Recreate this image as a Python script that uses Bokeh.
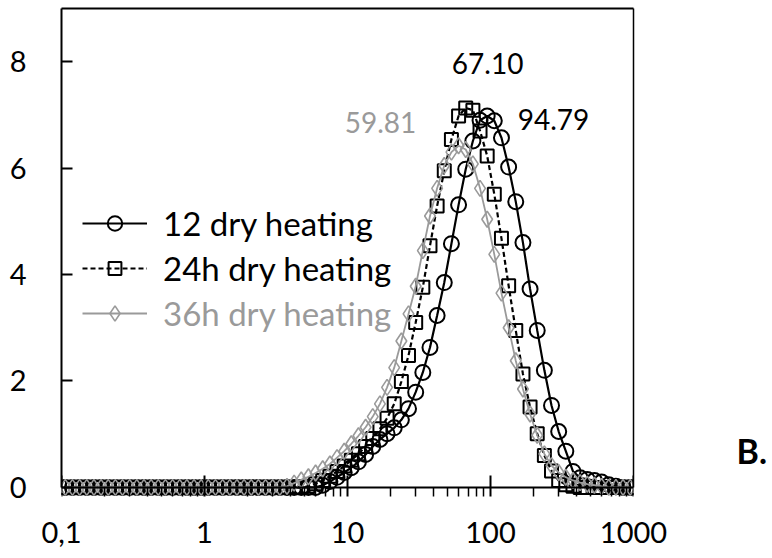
from bokeh.plotting import figure
from bokeh.models import Legend, LegendItem, FixedTicker, LinearAxis, LogAxis
from bokeh.embed import file_html
from bokeh.resources import INLINE
from bokeh.core.properties import value

# size classes (x)
size_bins = [0.1063, 0.1193, 0.1339, 0.1502, 0.1686, 0.1891, 0.2122, 0.2381, 0.2671, 0.2998,
             0.3363, 0.3774, 0.4234, 0.4751, 0.5330, 0.5981, 0.6711, 0.7530, 0.8449, 0.9480,
             1.063, 1.193, 1.339, 1.502, 1.686, 1.891, 2.122, 2.381, 2.671, 2.998,
             3.363, 3.774, 4.234, 4.751, 5.330, 5.981, 6.711, 7.530, 8.449, 9.480,
             10.63, 11.93, 13.39, 15.02, 16.86, 18.91, 21.22, 23.81, 26.71, 29.98,
             33.63, 37.74, 42.34, 47.51, 53.30, 59.81, 67.10, 75.30, 84.49, 94.79,
             106.3, 119.3, 133.9, 150.2, 168.6, 189.1, 212.2, 238.1, 267.1, 299.8,
             336.3, 377.4, 423.4, 475.1, 533.0, 598.1, 671.1, 753.0, 844.9, 948.0]

h12 = [0, 0, 0, 0, 0, 0, 0, 0, 0, 0,
       0, 0, 0, 0, 0, 0, 0, 0, 0, 0,
       0, 0, 0, 0, 0, 0, 0, 0, 0, 0,
       0, 0, 0, 0, 0, 0, 0.04, 0.11, 0.19, 0.28,
       0.37, 0.48, 0.62, 0.77, 0.90, 1.01, 1.12, 1.27, 1.48, 1.79,
       2.16, 2.63, 3.23, 3.85, 4.58, 5.31, 5.98, 6.51, 6.90, 6.98,
       6.89, 6.57, 6.02, 5.37, 4.60, 3.73, 2.95, 2.20, 1.54, 1.05,
       0.68, 0.30, 0.18, 0.15, 0.13, 0.10, 0.05, 0.02, 0, 0]

h24 = [0, 0, 0, 0, 0, 0, 0, 0, 0, 0,
       0, 0, 0, 0, 0, 0, 0, 0, 0, 0,
       0, 0, 0, 0, 0, 0, 0, 0, 0, 0,
       0, 0, 0, 0, 0.02, 0.07, 0.13, 0.21, 0.30, 0.40,
       0.51, 0.63, 0.77, 0.92, 1.10, 1.30, 1.57, 1.99, 2.48, 3.10,
       3.76, 4.54, 5.29, 5.95, 6.54, 6.98, 7.13, 7.09, 6.70, 6.23,
       5.51, 4.68, 3.79, 2.95, 2.13, 1.51, 1.01, 0.60, 0.31, 0.13,
       0.05, 0.02, 0, 0, 0, 0, 0, 0, 0, 0]

h36 = [0, 0, 0, 0, 0, 0, 0, 0, 0, 0,
       0, 0, 0, 0, 0, 0, 0, 0, 0, 0,
       0, 0, 0, 0, 0, 0, 0, 0, 0, 0,
       0, 0.02, 0.08, 0.14, 0.20, 0.27, 0.35, 0.44, 0.56, 0.68,
       0.82, 0.97, 1.13, 1.33, 1.57, 1.88, 2.25, 2.75, 3.26, 3.78,
       4.45, 5.10, 5.62, 6.05, 6.30, 6.42, 6.35, 6.08, 5.62, 5.04,
       4.38, 3.65, 3.00, 2.38, 1.85, 1.38, 0.98, 0.63, 0.41, 0.28,
       0.19, 0.13, 0.09, 0.06, 0.04, 0.02, 0, 0, 0, 0]

series_names = ["12 dry heating", "24h dry heating", "36h dry heating"]

x_tick_values = [0.1, 1, 10, 100, 1000]
x_tick_labels = ["0,1", "1", "10", "100", "1000"]
x_minor_ticks = [0.2, 0.3, 0.4, 0.5, 0.6, 0.7, 0.8, 0.9,
                 2, 3, 4, 5, 6, 7, 8, 9,
                 20, 30, 40, 50, 60, 70, 80, 90,
                 200, 300, 400, 500, 600, 700, 800, 900]
y_tick_values = [0, 2, 4, 6, 8]
y_axis_span = (0, 9)

peak_labels = ["67.10", "94.79", "59.81"]
peak_label_x = [95.5, 276.0, 17.0]
peak_label_y = [7.97, 6.92, 6.85]
peak_label_colors = ["black", "black", "#9a9a9a"]

panel_tag = "B."
panel_tag_y = [0.69]

FONT = "Lato"
GRAY = "#9a9a9a"

# the frame reaches a little below y=0 so that the markers lying on the
# baseline are not cut in half; the x axis line itself is pinned at y=0
p = figure(frame_width=572, frame_height=489,
           min_border_left=61, min_border_right=139, min_border_top=8, min_border_bottom=61,
           x_axis_type="log", x_range=(0.1, 1000), y_range=(-0.19, 9),
           output_backend="svg", toolbar_location=None)
p.background_fill_color = "white"
p.border_fill_color = "white"
p.outline_line_color = None
p.xgrid.visible = False
p.ygrid.visible = False

# x axis line and ticks, pinned at y = 0 (labels drawn by the axis below)
xa = p.xaxis[0]
xa.fixed_location = 0
xa.ticker = FixedTicker(ticks=x_tick_values, minor_ticks=x_minor_ticks)
xa.axis_line_width = 2
xa.major_tick_line_width = 2
xa.minor_tick_line_width = 1.5
xa.major_tick_in = 12
xa.major_tick_out = 9
xa.minor_tick_in = 0
xa.minor_tick_out = 9
xa.major_label_text_font_size = "0px"
xa.major_label_text_color = None

# x tick labels
xl = LogAxis(ticker=FixedTicker(ticks=x_tick_values))
xl.major_label_overrides = dict(zip(x_tick_values, x_tick_labels))
xl.axis_line_color = None
xl.major_tick_line_color = None
xl.minor_tick_line_color = None
xl.major_tick_in = 0
xl.major_tick_out = 0
xl.major_label_text_font = FONT
xl.major_label_text_font_size = "29px"
xl.major_label_text_color = "black"
xl.major_label_standoff = 24
p.add_layout(xl, "below")

ya = p.yaxis[0]
ya.bounds = y_axis_span
ya.ticker = FixedTicker(ticks=y_tick_values)
ya.axis_line_width = 2
ya.major_tick_line_width = 2
ya.major_tick_in = 11
ya.major_tick_out = 0
ya.minor_tick_line_color = None
ya.major_label_text_font = FONT
ya.major_label_text_font_size = "29px"
ya.major_label_text_color = "black"
ya.major_label_standoff = 35

# top border
ta = LogAxis(ticker=FixedTicker(ticks=[]))
ta.axis_line_width = 2
ta.major_tick_line_color = None
ta.minor_tick_line_color = None
ta.major_tick_in = 0
ta.major_tick_out = 0
p.add_layout(ta, "above")

# right border, carrying the panel tag "B." as its only label
ra = LinearAxis(ticker=FixedTicker(ticks=panel_tag_y),
                major_label_overrides={panel_tag_y[0]: panel_tag})
ra.bounds = y_axis_span
ra.axis_line_width = 1.5
ra.major_tick_line_color = None
ra.minor_tick_line_color = None
ra.major_tick_in = 0
ra.major_tick_out = 0
ra.major_label_standoff = 103
ra.major_label_text_font = FONT
ra.major_label_text_font_size = "34px"
ra.major_label_text_font_style = "bold"
ra.major_label_text_color = "black"
p.add_layout(ra, "right")

# series
l1 = p.line(size_bins, h12, line_color="black", line_width=2.2)
m1 = p.scatter(size_bins, h12, marker="circle", size=15, line_color="black",
               fill_color=None, line_width=2)
l2 = p.line(size_bins, h24, line_color="black", line_width=2.2, line_dash="5 3")
m2 = p.scatter(size_bins, h24, marker="square", size=13, line_color="black",
               fill_color=None, line_width=2)
l3 = p.line(size_bins, h36, line_color=GRAY, line_width=1.8)
m3 = p.scatter(size_bins, h36, marker="diamond", size=16,
               line_color=GRAY, fill_color=None, line_width=1.6)

# peak labels
p.text(x=peak_label_x, y=peak_label_y, text=peak_labels, text_color=peak_label_colors,
       text_font=value(FONT), text_font_size="28px", text_align="center",
       text_baseline="middle")

# legends (one per entry so that each label keeps its own colour)
legend_specs = [
    (series_names[0], [l1, m1], "black", 36, 254),
    (series_names[1], [l2, m2], "black", 32, 209),
    (series_names[2], [l3, m3], GRAY, 38, 164),
]
for name, rends, color, gh, ypos in legend_specs:
    lg = Legend(items=[LegendItem(label=name, renderers=rends)],
                location=(21, ypos), glyph_width=65, glyph_height=gh,
                label_height=38, label_standoff=16, padding=0, margin=0,
                spacing=0, border_line_color=None, background_fill_alpha=0,
                label_text_font=FONT, label_text_font_size="33px",
                label_text_color=color)
    p.add_layout(lg, "center")

open("out.html", "w").write(file_html(p, INLINE))
